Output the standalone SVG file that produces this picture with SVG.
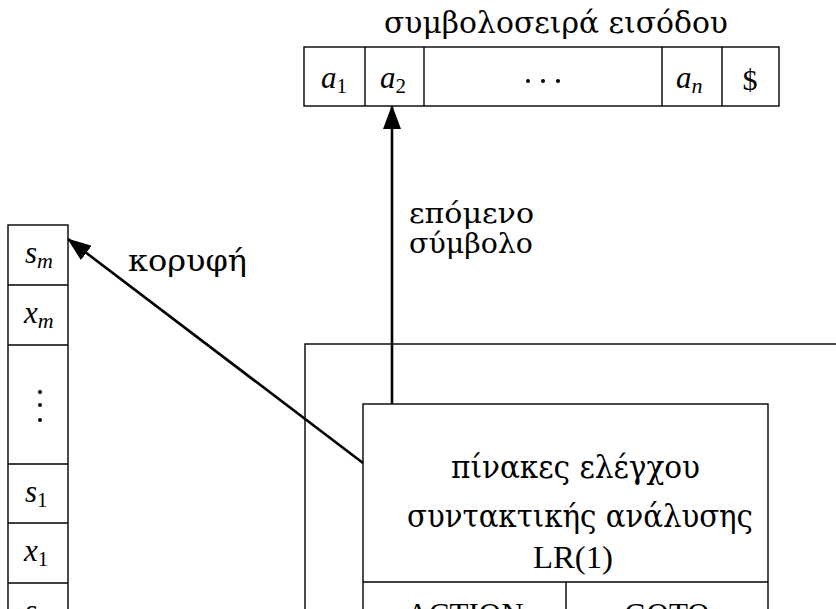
<svg xmlns="http://www.w3.org/2000/svg" width="836" height="609" viewBox="0 0 836 609">
  <style>
    .box { fill: none; stroke: #000; stroke-width: 1.4; }
    .txt { font-family: "DejaVu Serif", "Liberation Serif", serif; fill: #000; }
    .rm { font-family: "Liberation Serif", "DejaVu Serif", serif; fill: #000; }
    .mi { font-family: "Liberation Serif", "DejaVu Serif", serif; font-style: italic; fill: #000; font-size: 31px; }
    .sub { font-style: normal; font-size: 21px; }
    .subi { font-size: 22px; }
    .conn { stroke: #000; stroke-width: 2.6; fill: none; }
  </style>
  <defs>
    <marker id="head" viewBox="0 0 24 18" refX="23" refY="9" markerUnits="userSpaceOnUse" markerWidth="24" markerHeight="18" orient="auto">
      <path d="M0,0 L24,9 L0,18 Z" fill="#000"/>
    </marker>
  </defs>
  <rect width="836" height="609" fill="#fff"/>

  <!-- input string -->
  <g id="input">
    <text class="txt" x="384" y="33" font-size="29" textLength="344" lengthAdjust="spacingAndGlyphs">συμβολοσειρά εισόδου</text>
    <rect class="box" x="304" y="47" width="475" height="59"/>
    <line class="box" x1="365" y1="47" x2="365" y2="106"/>
    <line class="box" x1="424" y1="47" x2="424" y2="106"/>
    <line class="box" x1="662" y1="47" x2="662" y2="106"/>
    <line class="box" x1="722" y1="47" x2="722" y2="106"/>
    <text class="mi" x="321" y="88">a<tspan class="sub" dy="5">1</tspan></text>
    <text class="mi" x="380" y="88">a<tspan class="sub" dy="5">2</tspan></text>
    <g fill="#000"><circle cx="528" cy="81" r="2"/><circle cx="543" cy="81" r="2"/><circle cx="558" cy="81" r="2"/></g>
    <text class="mi" x="676" y="88">a<tspan class="subi" dy="5">n</tspan></text>
    <text class="rm" x="750" y="90" font-size="30" text-anchor="middle">$</text>
  </g>

  <!-- stack -->
  <g id="stack">
    <rect class="box" x="8" y="225" width="60" height="400"/>
    <line class="box" x1="8" y1="285" x2="68" y2="285"/>
    <line class="box" x1="8" y1="345" x2="68" y2="345"/>
    <line class="box" x1="8" y1="464" x2="68" y2="464"/>
    <line class="box" x1="8" y1="523" x2="68" y2="523"/>
    <line class="box" x1="8" y1="583" x2="68" y2="583"/>
    <text class="mi" x="25" y="263">s<tspan class="subi" dy="5" textLength="25">m</tspan></text>
    <text class="mi" x="24" y="323">x<tspan class="subi" dy="5" textLength="27">m</tspan></text>
    <g fill="#000"><circle cx="40" cy="392" r="2"/><circle cx="40" cy="405" r="2"/><circle cx="40" cy="420" r="2"/></g>
    <text class="mi" x="25" y="502">s<tspan class="sub" dy="5">1</tspan></text>
    <text class="mi" x="24" y="561">x<tspan class="sub" dy="5">1</tspan></text>
    <text class="mi" x="25" y="621">s<tspan class="sub" dy="5">0</tspan></text>
  </g>

  <!-- parser -->
  <g id="parser">
    <rect class="box" x="305" y="344" width="560" height="300"/>
  </g>

  <!-- parsing tables -->
  <g id="tables">
    <rect class="box" x="363" y="404" width="405" height="240"/>
    <line class="box" x1="363" y1="582" x2="768" y2="582"/>
    <line class="box" x1="566" y1="582" x2="566" y2="644"/>
    <text class="txt" x="451" y="478" font-size="31" textLength="249" lengthAdjust="spacingAndGlyphs">πίνακες ελέγχου</text>
    <text class="txt" x="407" y="527" font-size="31" textLength="346" lengthAdjust="spacingAndGlyphs">συντακτικής ανάλυσης</text>
    <text class="rm" x="533" y="568" font-size="31" textLength="80" lengthAdjust="spacingAndGlyphs">LR(1)</text>
    <text class="rm" x="465" y="625" font-size="31" text-anchor="middle">ACTION</text>
    <text class="rm" x="667" y="625" font-size="31" text-anchor="middle">GOTO</text>
  </g>

  <!-- connectors -->
  <g id="connectors">
    <line class="conn" x1="392" y1="404" x2="392" y2="106" marker-end="url(#head)"/>
    <line class="conn" x1="363" y1="463" x2="68" y2="239" marker-end="url(#head)"/>
    <text class="txt" x="128" y="271" font-size="29" textLength="119" lengthAdjust="spacingAndGlyphs">κορυφή</text>
    <text class="txt" x="409" y="223" font-size="27" textLength="125" lengthAdjust="spacingAndGlyphs">επόμενο</text>
    <text class="txt" x="409" y="253" font-size="27" textLength="124" lengthAdjust="spacingAndGlyphs">σύμβολο</text>
  </g>
</svg>
